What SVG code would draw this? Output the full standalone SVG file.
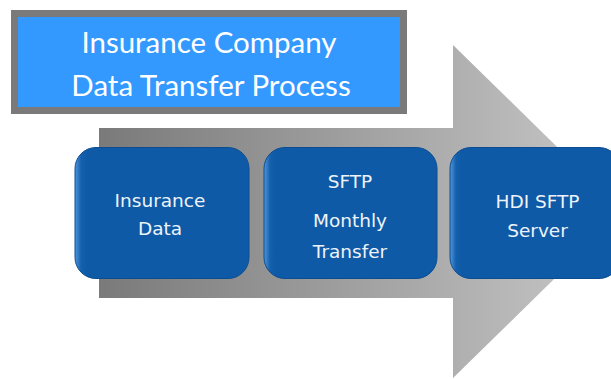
<svg xmlns="http://www.w3.org/2000/svg" width="611" height="379" viewBox="0 0 611 379">
  <defs>
    <linearGradient id="arrowFill" x1="99" y1="0" x2="623" y2="0" gradientUnits="userSpaceOnUse">
      <stop offset="0" stop-color="#7a7a7a"/>
      <stop offset="0.6" stop-color="#a9a9a9"/>
      <stop offset="1" stop-color="#c9c9c9"/>
    </linearGradient>
    <linearGradient id="boxFill" x1="0" y1="0" x2="1" y2="0">
      <stop offset="0" stop-color="#4f97de"/>
      <stop offset="0.035" stop-color="#1560ad"/>
      <stop offset="0.07" stop-color="#0f5aa7"/>
      <stop offset="1" stop-color="#0f5aa7"/>
    </linearGradient>
  </defs>
  <style>
    .title { font-family: "Lato", "Open Sans", sans-serif; font-size: 29.5px; fill: #ffffff; text-anchor: middle; }
    .step { fill: url(#boxFill); stroke: #0b4d92; stroke-width: 1; }
    .label { font-family: "DejaVu Sans", "Liberation Sans", sans-serif; font-size: 18.5px; fill: #eef3f9; text-anchor: middle; }
  </style>

  <!-- big process arrow in the background -->
  <path d="M99 128 H453 V45 L623 211.5 L453 378 V298 H99 Z" fill="url(#arrowFill)"/>

  <!-- title banner -->
  <g id="title">
    <rect x="14.5" y="13.5" width="389" height="97" fill="#3399ff" stroke="#7a7a7a" stroke-width="7"/>
    <text class="title" x="209" y="53">Insurance Company</text>
    <text class="title" x="211" y="96">Data Transfer Process</text>
  </g>

  <g id="insurance-data">
    <rect class="step" x="75" y="147.5" width="174" height="131" rx="21" ry="21"/>
    <text class="label" x="160" y="207">Insurance</text>
    <text class="label" x="160" y="235">Data</text>
  </g>

  <g id="sftp-transfer">
    <rect class="step" x="264" y="147.5" width="173" height="131" rx="21" ry="21"/>
    <text class="label" x="350" y="188">SFTP</text>
    <text class="label" x="350" y="227">Monthly</text>
    <text class="label" x="350" y="258">Transfer</text>
  </g>

  <g id="hdi-server">
    <rect class="step" x="450" y="147.5" width="170" height="131" rx="21" ry="21"/>
    <text class="label" x="537.5" y="208">HDI SFTP</text>
    <text class="label" x="537.5" y="237">Server</text>
  </g>

  <g id="connectors"/>
</svg>
